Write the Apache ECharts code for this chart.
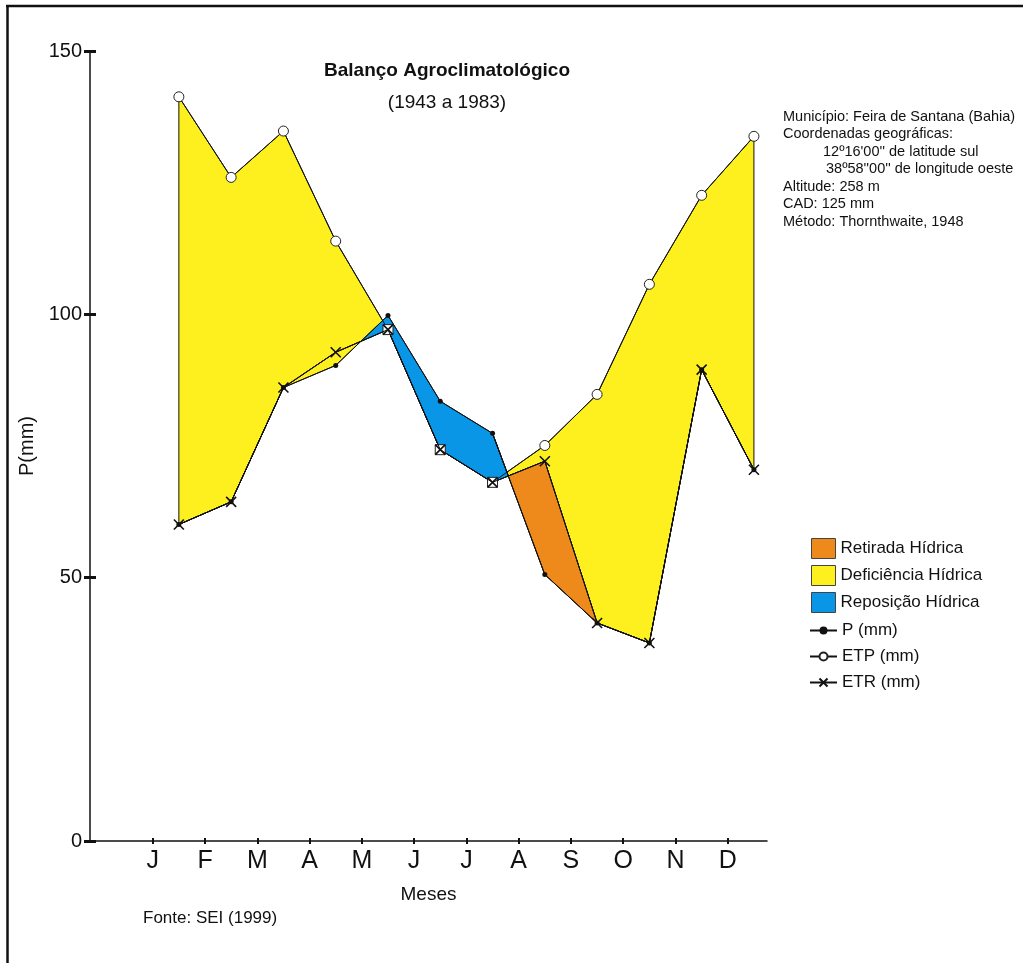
<!DOCTYPE html>
<html>
<head>
<meta charset="utf-8">
<script src="https://cdn.jsdelivr.net/npm/echarts@6/dist/echarts.min.js"></script>
<style>
  html, body { margin: 0; padding: 0; background: #fff; }
  #chart { width: 1023px; height: 963px; }
</style>
</head>
<body>
<div id="chart"></div>
<script>
const months = ["J", "F", "M", "A", "M", "J", "J", "A", "S", "O", "N", "D"];
const pValues = [60.1, 64.4, 86.1, 90.3, 99.8, 83.5, 77.4, 50.6, 41.4, 37.6, 89.5, 70.5];
const etpValues = [141.3, 126.0, 134.8, 113.9, 97.1, 74.3, 68.1, 75.1, 84.8, 105.7, 122.6, 133.8];
const etrValues = [60.1, 64.4, 86.1, 92.8, 97.1, 74.3, 68.1, 72.1, 41.4, 37.6, 89.5, 70.5];
const yTicks = [0, 50, 100, 150];
// orange (retirada) is only drawn in the dry season, like the original figure
const retiradaRange = [6, 8];

const infoLines = [
  ["Município: Feira de Santana (Bahia)", 783],
  ["Coordenadas geográficas:", 783],
  ["12º16'00'' de latitude sul", 823],
  ["38º58''00'' de longitude oeste", 826],
  ["Altitude: 258 m", 783],
  ["CAD: 125 mm", 783],
  ["Método: Thornthwaite, 1948", 783],
];

const FONT = "Liberation Sans, Arial, sans-serif";
const monthX = months.map((m, i) => i + 0.5);

// sample x positions: month centres plus the P / ETR crossings
const xs = monthX.slice();
for (let i = 1; i < months.length; i++) {
  const d0 = pValues[i - 1] - etrValues[i - 1];
  const d1 = pValues[i] - etrValues[i];
  if (d0 * d1 < 0) xs.push(monthX[i - 1] + d0 / (d0 - d1));
}
xs.sort((a, b) => a - b);

const interp = (arr, x) => {
  const i = Math.min(Math.max(Math.floor(x - 0.5), 0), arr.length - 2);
  const t = x - monthX[i];
  return arr[i] + (arr[i + 1] - arr[i]) * t;
};

// polygon of the band where top > bottom, between x0 and x1
const band = (topFn, botFn, x0, x1) => {
  const pts = xs.filter((x) => x >= x0 - 1e-9 && x <= x1 + 1e-9);
  const up = pts.map((x) => [x, Math.max(topFn(x), botFn(x))]);
  const down = pts.map((x) => [x, botFn(x)]).reverse();
  return up.concat(down);
};

const P = (x) => interp(pValues, x);
const ETP = (x) => interp(etpValues, x);
const ETR = (x) => interp(etrValues, x);

const deficiencia = band(ETP, (x) => Math.min(P(x), ETR(x)), monthX[0], monthX[11]);
const reposicao = band(P, ETR, monthX[0], monthX[11]);
const retirada = band(ETR, P, monthX[retiradaRange[0]], monthX[retiradaRange[1]]);

const polySeries = (name, color, pts) => ({
  name: name,
  type: "custom",
  coordinateSystem: "cartesian2d",
  itemStyle: { color: color },
  z: 1,
  silent: true,
  data: [[0, 0]],
  renderItem: (params, api) => ({
    type: "polygon",
    shape: { points: pts.map((p) => api.coord(p)) },
    style: { fill: color, stroke: "#111", lineWidth: 1 },
  }),
});

const xPath = "path://M0,0L10,10M10,0L0,10";
const legendText = { fontFamily: FONT, fontSize: 17, color: "#111" };
const rectItem = (name) => ({ name: name, icon: "rect", itemStyle: { borderColor: "#444", borderWidth: 1 } });

const chart = echarts.init(document.getElementById("chart"));
chart.setOption({
  backgroundColor: "#fff",
  animation: false,
  textStyle: { fontFamily: FONT, color: "#111" },
  title: {
    text: "Balanço Agroclimatológico",
    subtext: "(1943 a 1983)",
    left: 442,
    top: 56,
    textAlign: "center",
    itemGap: 13,
    textStyle: { fontFamily: FONT, fontSize: 19, fontWeight: "bold", color: "#111" },
    subtextStyle: { fontFamily: FONT, fontSize: 19, color: "#111" },
  },
  legend: [
    {
      orient: "vertical",
      left: 806,
      top: 533,
      itemWidth: 24,
      itemHeight: 20,
      itemGap: 6,
      selectedMode: false,
      textStyle: legendText,
      data: [rectItem("Retirada Hídrica"), rectItem("Deficiência Hídrica"), rectItem("Reposição Hídrica")],
    },
    {
      orient: "vertical",
      left: 804,
      top: 617,
      itemWidth: 27,
      itemHeight: 10,
      itemGap: 9,
      selectedMode: false,
      textStyle: legendText,
      data: ["P (mm)", "ETP (mm)", "ETR (mm)"],
    },
  ],
  grid: { left: 90, right: 256, top: 51, bottom: 122 },
  xAxis: [
    {
      type: "value",
      min: -1.2,
      max: 11.75,
      name: "Meses",
      nameLocation: "middle",
      nameGap: 44,
      nameTextStyle: { fontFamily: FONT, fontSize: 19, color: "#111" },
      axisLine: { onZero: false, lineStyle: { color: "#111", width: 1.5 } },
      axisTick: { customValues: months.map((m, i) => i), length: 3, lineStyle: { color: "#111", width: 2 } },
      axisLabel: {
        customValues: months.map((m, i) => i),
        formatter: (v) => months[Math.round(v)],
        fontFamily: FONT,
        fontSize: 25,
        color: "#111",
        margin: 8,
      },
      splitLine: { show: false },
    },
    {
      type: "value",
      position: "bottom",
      min: -1.2,
      max: 11.75,
      axisLine: { show: false, onZero: false },
      axisTick: { inside: true, customValues: months.map((m, i) => i), length: 3, lineStyle: { color: "#111", width: 2 } },
      axisLabel: { show: false },
      splitLine: { show: false },
    },
  ],
  yAxis: [
    {
      type: "value",
      min: 0,
      max: 150,
      interval: 50,
      name: "P(mm)",
      nameLocation: "middle",
      nameGap: 48,
      nameTextStyle: { fontFamily: FONT, fontSize: 20, color: "#111" },
      axisLine: { show: true, onZero: false, lineStyle: { color: "#111", width: 1.5 } },
      axisTick: { show: true, length: 6, lineStyle: { color: "#111", width: 3 } },
      axisLabel: { fontFamily: FONT, fontSize: 20, color: "#111", margin: 8 },
      splitLine: { show: false },
    },
    {
      type: "value",
      position: "left",
      min: 0,
      max: 150,
      interval: 50,
      axisLine: { show: false, onZero: false },
      axisTick: { show: true, inside: true, length: 6, lineStyle: { color: "#111", width: 3 } },
      axisLabel: { show: false },
      splitLine: { show: false },
    },
  ],
  series: [
    polySeries("Deficiência Hídrica", "#fdf01e", deficiencia),
    polySeries("Reposição Hídrica", "#0a96e6", reposicao),
    polySeries("Retirada Hídrica", "#ee8a1b", retirada),
    {
      name: "P (mm)",
      type: "line",
      z: 3,
      symbol: "circle",
      symbolSize: 5,
      lineStyle: { color: "#111", width: 1 },
      itemStyle: { color: "#111" },
      data: pValues.map((v, i) => [monthX[i], v]),
    },
    {
      name: "ETP (mm)",
      type: "line",
      z: 4,
      symbol: "circle",
      symbolSize: 10,
      lineStyle: { color: "#111", width: 1 },
      itemStyle: { color: "#fff", borderColor: "#222", borderWidth: 1 },
      data: etpValues.map((v, i) =>
        v === etrValues[i]
          ? { value: [monthX[i], v], symbol: "rect", symbolSize: 10 }
          : [monthX[i], v]
      ),
    },
    {
      name: "ETR (mm)",
      type: "line",
      z: 5,
      symbol: xPath,
      symbolSize: 10,
      lineStyle: { color: "#111", width: 1 },
      itemStyle: { color: "#111", borderColor: "#111", borderWidth: 1.6 },
      data: etrValues.map((v, i) => [monthX[i], v]),
    },
  ],
  graphic: [
    { type: "line", shape: { x1: 6, y1: 6, x2: 1023, y2: 6 }, style: { stroke: "#111", lineWidth: 2.5 } },
    { type: "line", shape: { x1: 7.5, y1: 5, x2: 7.5, y2: 963 }, style: { stroke: "#111", lineWidth: 2.5 } },
    {
      type: "text",
      left: 143,
      top: 910,
      style: { text: "Fonte: SEI (1999)", fontFamily: FONT, fontSize: 17, fill: "#111" },
    },
  ].concat(
    infoLines.map(([t, x], i) => ({
      type: "text",
      left: x,
      top: 109 + i * 17.5,
      style: { text: t, fontFamily: FONT, fontSize: 14.5, fill: "#111" },
    }))
  ),
});
</script>
</body>
</html>
